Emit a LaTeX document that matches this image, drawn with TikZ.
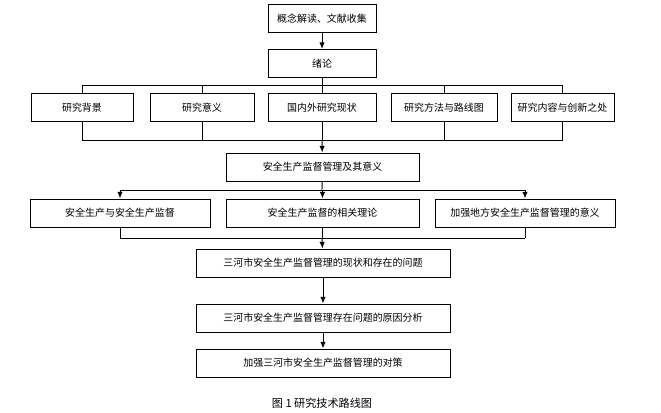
\documentclass[tikz,border=0pt]{standalone}
\usepackage{fontspec}
\newfontfamily\cjk{Noto Sans CJK SC}
\usetikzlibrary{arrows.meta}
\tikzset{
  box/.style = {draw, thick, inner sep = 1pt, minimum height = 0.84cm, font = \cjk\fontsize{8.5}{10}\selectfont},
  link/.style = {thick},
  arr/.style = {thick, -{Latex[length = 2mm, width = 1.6mm]}}
}
\begin{document}
\begin{tikzpicture}[x = 0.03cm, y = -0.03cm]
		\useasboundingbox (0, 0) rectangle (661, 412);
		%%%%%%%%%%%%%
		\node[box, minimum width = 3.24cm] (a) at (322, 18.5) {概念解读、文献收集};
		\node[box, minimum width = 3.24cm] (b) at (322, 63.5) {绪论};
		\node[box, minimum width = 3.06cm] (c1) at (82, 107.5) {研究背景};
		\node[box, minimum width = 3.12cm] (c2) at (202, 107.5) {研究意义};
		\node[box, minimum width = 3.24cm] (c3) at (322, 107.5) {国内外研究现状};
		\node[box, minimum width = 3.18cm] (c4) at (444, 107.5) {研究方法与路线图};
		\node[box, minimum width = 3.09cm] (c5) at (562.5, 107.5) {研究内容与创新之处};
		\node[box, minimum width = 5.79cm] (d) at (322.5, 167) {安全生产监督管理及其意义};
		\node[box, minimum width = 5.40cm] (e1) at (120, 213) {安全生产与安全生产监督};
		\node[box, minimum width = 5.79cm] (e2) at (322.5, 213) {安全生产监督的相关理论};
		\node[box, minimum width = 5.40cm] (e3) at (525, 213) {加强地方安全生产监督管理的意义};
		\node[box, minimum width = 7.62cm] (f) at (323, 263) {三河市安全生产监督管理的现状和存在的问题};
		\node[box, minimum width = 7.62cm] (g) at (323, 318) {三河市安全生产监督管理存在问题的原因分析};
		\node[box, minimum width = 7.62cm] (h) at (323, 363) {加强三河市安全生产监督管理的对策};
		\node[font = \cjk\fontsize{9.5}{11}\selectfont] (cap) at (322, 403) {图 1 研究技术路线图};
		%%%%%%%%%%%%%
		\coordinate (top) at (322, 85);
		\coordinate (low) at (322, 140);
		\coordinate (mid) at (322, 190);
		\coordinate (bot) at (322, 238);
		%%%%%%%%%%%%%
		\draw [arr] (a) to (b);
		\draw [link] (b) to (c3);
		\draw [link] (c1.north |- top) -- (c5.north |- top);
		\foreach \n in {c1, c2, c4, c5} \draw [link] (\n.north |- top) to (\n);
		\draw [link] (c1.south |- low) -- (c5.south |- low);
		\foreach \n in {c1, c2, c3, c4, c5} \draw [link] (\n) to (\n.south |- low);
		\draw [arr] (low) to (d);
		\draw [link] (d) to (mid);
		\draw [link] (e1.north |- mid) -- (e3.north |- mid);
		\foreach \n in {e1, e2, e3} \draw [arr] (\n.north |- mid) to (\n);
		\foreach \n in {e1, e2, e3} \draw [link] (\n) to (\n.south |- bot);
		\draw [link] (e1.south |- bot) -- (e3.south |- bot);
		\draw [arr] (bot) to (f);
		\draw [arr] (f) to (g);
		\draw [arr] (g) to (h);
		%%%%%%%%%%%%%%
	\end{tikzpicture}
\end{document}
